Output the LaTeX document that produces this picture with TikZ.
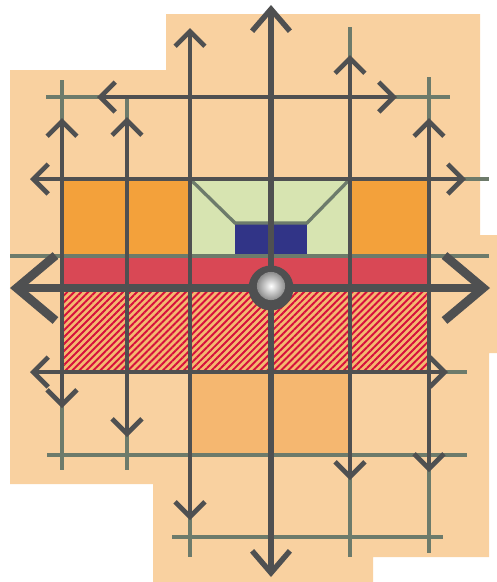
\documentclass[tikz,border=0pt]{standalone}
\definecolor{peach}{RGB}{249,209,160}
\definecolor{blockorange}{RGB}{243,161,59}
\definecolor{leafgreen}{RGB}{215,228,177}
\definecolor{deepnavy}{RGB}{49,52,135}
\definecolor{bandred}{RGB}{217,72,85}
\definecolor{lightorange}{RGB}{245,183,112}
\definecolor{hatchred}{RGB}{214,16,60}
\definecolor{gridgray}{RGB}{79,80,81}
\definecolor{guidegray}{RGB}{109,123,107}
\usepackage{tikz}
\usetikzlibrary{arrows.meta,patterns.meta}

\begin{document}
\begin{tikzpicture}[x=0.02cm,y=-0.02cm,
    thinline/.style={draw=guidegray, line width=1.9pt},
    gridarrow/.style={draw=gridgray, line width=2.7pt,
        {Straight Barb[length=8.5pt,width=17pt]}-{Straight Barb[length=8.5pt,width=17pt]}},
    haxis/.style={draw=gridgray, line width=4.3pt,
        {Straight Barb[length=22pt,width=37pt,line width=5pt]}-{Straight Barb[length=22pt,width=37pt,line width=5pt]}},
    vaxis/.style={draw=gridgray, line width=3.1pt,
        {Straight Barb[length=12.5pt,width=21.5pt]}-{Straight Barb[length=12.5pt,width=21.5pt]}}]
    \useasboundingbox (0,0) rectangle (497,582);

    % Background
    \fill[peach] (10,70) -- (166,70) -- (166,14) -- (480,14) -- (480,235) -- (497,235)
        -- (497,353) -- (489,353) -- (489,557) -- (373,557) -- (373,582) -- (153,582)
        -- (153,484) -- (10,484) -- cycle;

    % Blocks
    \fill[blockorange] (62,179) rectangle (190,256);
    \fill[blockorange] (350,179) rectangle (429,256);
    \fill[leafgreen] (190,179) rectangle (350,256);
    \fill[deepnavy] (235,223) rectangle (307,256);
    \draw[thinline] (190,179) -- (235,223) -- (307,223) -- (350,179);
    \fill[bandred] (62,256) rectangle (429,288);
    \fill[lightorange] (62,288) rectangle (429,372);
    \fill[pattern={Lines[angle=45,distance=2.8pt,line width=1.1pt]}, pattern color=hatchred]
        (62,288) rectangle (429,372);
    \fill[lightorange] (190,372) rectangle (350,455);

    % Guide lines
    \foreach \y/\a/\b in {97/46/450, 179/440/489, 256/10/489, 372/440/467, 455/47/467, 537/172/443}
        \draw[thinline] (\a,\y) -- (\b,\y);
    \foreach \x/\a/\b in {62/80/470, 127/97/470, 190/500/557, 350/27/557, 429/77/553}
        \draw[thinline] (\x,\a) -- (\x,\b);

    % Grid arrows
    \foreach \y/\a/\b in {97/97/397, 179/30/466, 372/30/448}
        \draw[gridarrow] (\a,\y) -- (\b,\y);
    \foreach \x/\a/\b in {62/118/408, 127/117/437, 190/28/520, 350/55/480, 429/118/472}
        \draw[gridarrow] (\x,\a) -- (\x,\b);

    % Axes
    \draw[haxis] (10,288) -- (490,288);
    \draw[vaxis] (271,5) -- (271,577);

    % Origin
    \fill[gridgray] (271,288) circle (12.8pt);
    \shade[inner color=white, outer color=gray!90] (271,286) circle (8pt);
\end{tikzpicture}
\end{document}
